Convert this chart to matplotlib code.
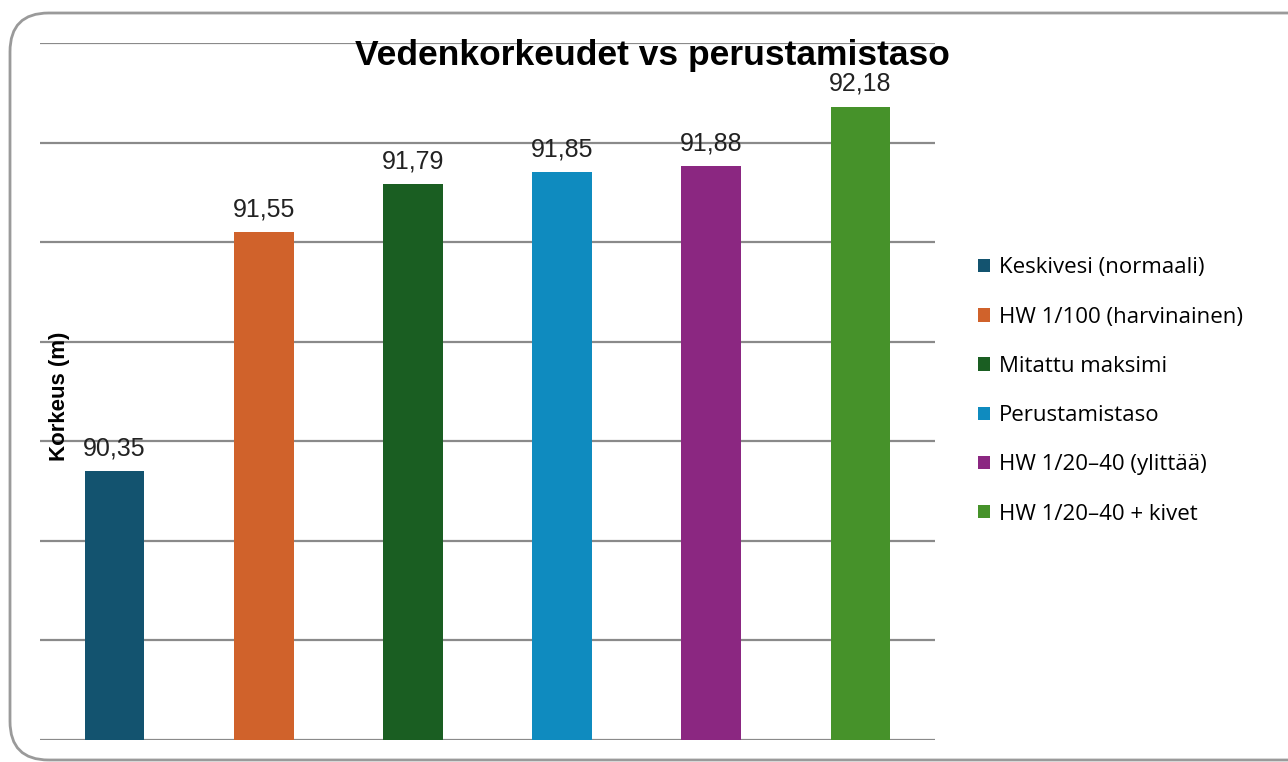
import numpy as np
import matplotlib
matplotlib.use('Agg')
import matplotlib.pyplot as plt
from matplotlib.patches import FancyBboxPatch, Patch

plt.rcParams['font.family'] = ['Liberation Sans', 'DejaVu Sans']

categories = ['Keskivesi (normaali)', 'HW 1/100 (harvinainen)', 'Mitattu maksimi',
              'Perustamistaso', 'HW 1/20\u201340 (ylittää)', 'HW 1/20\u201340 + kivet']
values = [90.35, 91.55, 91.79, 91.85, 91.88, 92.18]
colors = ['#13536f', '#d0622b', '#1a5e22', '#0f8bbf', '#8b2781', '#46922a']

fig = plt.figure(figsize=(12.88, 7.62), dpi=100)

# rounded chart frame, right side runs off the picture
frame = FancyBboxPatch((10 / 1288, 1 - 760 / 762), 1.2, (760 - 13) / 762,
                       boxstyle='round,pad=0,rounding_size=0.03',
                       transform=fig.transFigure, facecolor='none',
                       edgecolor='#9a9a9a', linewidth=2, mutation_aspect=1288 / 762)
fig.patches.append(frame)

ax = fig.add_axes([40 / 1288, 1 - 740 / 762, 895 / 1288, 697 / 762])
ax.set_facecolor('none')
x = np.arange(len(values))
bars = ax.bar(x, values, width=0.4, color=colors, zorder=3)
ax.set_xlim(-0.5, len(values) - 0.5)
ax.set_ylim(89, 92.5)
ax.set_yticks(np.arange(89, 92.51, 0.5))
ax.yaxis.grid(True, color='#8a8a8a', linewidth=1.6, zorder=0)
ax.tick_params(left=False, bottom=False, labelleft=False, labelbottom=False)
for s in ax.spines.values():
    s.set_visible(False)

for xi, v in zip(x, values):
    ax.annotate(f'{v:.2f}'.replace('.', ','), (xi, v), xytext=(0, 8),
                textcoords='offset points', ha='center', va='bottom',
                fontsize=18, color='#222222', zorder=4)

fig.text(652 / 1288, 1 - 55 / 762, 'Vedenkorkeudet vs perustamistaso',
         ha='center', va='center', fontsize=25.5, fontweight='bold', zorder=5)
fig.text(60 / 1288, 1 - 396 / 762, 'Korkeus (m)', rotation=90, ha='center',
         va='center', fontsize=16, fontweight='bold', zorder=5)

handles = [Patch(facecolor=c, edgecolor='none') for c in colors]
fig.legend(handles, categories, loc='center left', bbox_to_anchor=(958 / 1288, 1 - 391 / 762),
           frameon=False, handlelength=0.55, handleheight=0.55,
           handletextpad=0.4, labelspacing=1.27,
           prop={'family': ['Open Sans', 'DejaVu Sans'], 'size': 16})

fig.savefig('out.png', dpi=100)
